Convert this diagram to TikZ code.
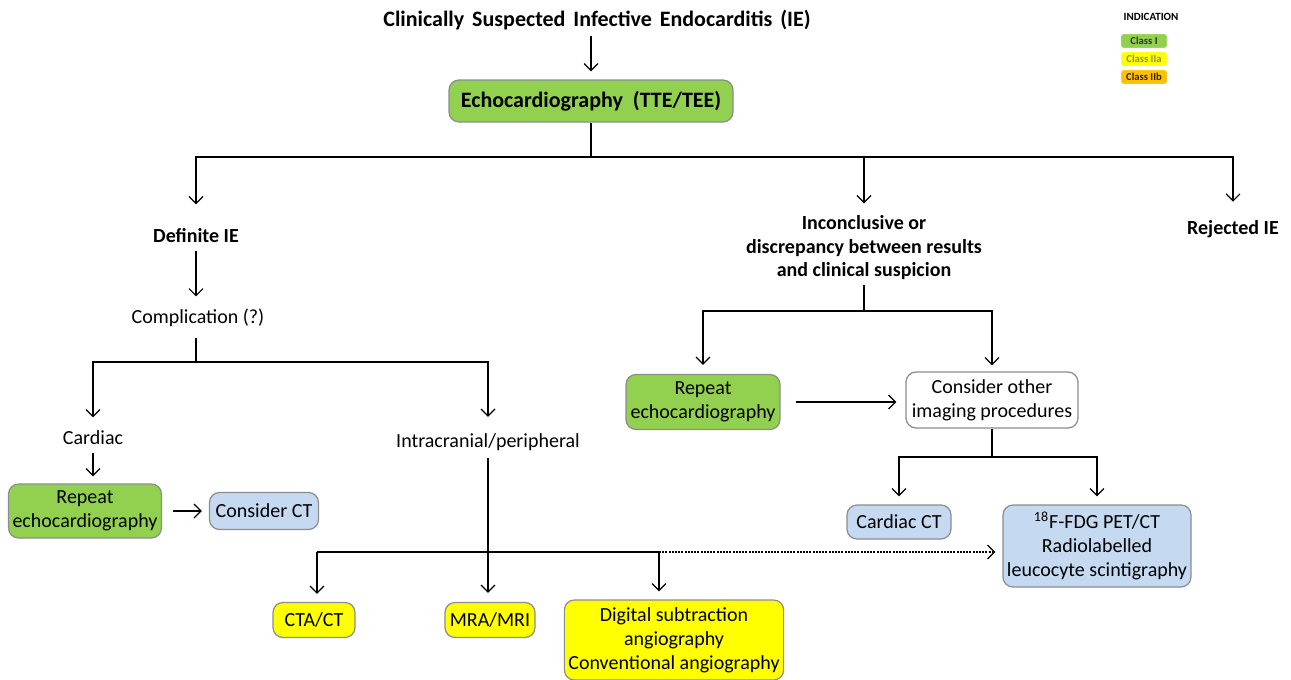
\documentclass[tikz,border=0pt]{standalone}
\usepackage{fontspec}
\setmainfont{Carlito}
\usepackage{tikz}
\usetikzlibrary{
    arrows.meta,
    positioning
}
\definecolor{classI}{HTML}{92D050}
\definecolor{classIIa}{HTML}{FFFF00}
\definecolor{classIIb}{HTML}{FFC000}
\definecolor{imgblue}{HTML}{C5D9F1}
\definecolor{boxline}{HTML}{8C8C8C}

\begin{document}
\begin{tikzpicture}[
        x=0.5pt, y=-0.5pt,
        line width=0.6pt,
        font=\fontsize{10}{12}\selectfont,
        box/.style={
            draw=boxline,
            rounded corners=5pt,
            align=center,
            inner sep=2pt
        },
        txt/.style={
            align=center,
            inner sep=0pt
        },
        head/.style={
            txt,
            font=\fontsize{10}{11.75}\selectfont\bfseries
        },
        legbox/.style={
            draw=white,
            rounded corners=1.5pt,
            minimum width=23.5pt,
            minimum height=7.5pt,
            inner sep=0pt,
            font=\fontsize{5.3}{6}\selectfont\bfseries
        },
        arr/.style={
            -{Straight Barb[length=3.5pt,width=7pt]}
        }
    ]
    \useasboundingbox (0,0) rectangle (1291,680);

    % top
    \node[txt, font=\fontsize{11}{13}\selectfont\bfseries] (title) at (597,20)
        {Clinically\hspace{0.36em}Suspected\hspace{0.36em}Infective\hspace{0.36em}Endocarditis\hspace{0.36em}(IE)};
    \node[box, fill=classI, minimum width=142pt, minimum height=21pt,
          font=\fontsize{11}{13}\selectfont\bfseries] (echo) at (591,101)
        {Echocardiography\ \ (TTE/TEE)};

    % legend
    \node[txt, font=\fontsize{5.5}{6}\selectfont\bfseries] (ind) at (1151,17) {INDICATION};
    \node[legbox, fill=classI, text=black!80] (lgI) at (1144,41) {Class I};
    \node[legbox, fill=classIIa, text=black!50!yellow!70!gray] (lgIIa) at (1144,59) {Class IIa};
    \node[legbox, fill=classIIb, text=black!75!brown] (lgIIb) at (1144,77) {Class IIb};

    % second level
    \node[head] (def) at (196,236) {Definite IE};
    \node[head] (inc) at (864,248)
        {Inconclusive or\\discrepancy between results\\and clinical suspicion};
    \node[head] (rej) at (1233,229) {Rejected IE};

    % left branch
    \node[txt] (comp) at (198,318) {Complication (?)};
    \node[txt] (card) at (93,438) {Cardiac};
    \node[txt] (intra) at (488,442) {Intracranial/peripheral};
    \node[box, fill=classI, minimum width=76pt, minimum height=27pt] (rep1) at (85,511)
        {Repeat\\echocardiography};
    \node[box, fill=imgblue, minimum width=54.5pt, minimum height=18.5pt] (ct1) at (264,511)
        {Consider CT};
    \node[box, fill=classIIa, minimum width=41pt, minimum height=17.5pt] (cta) at (314,620)
        {CTA/CT};
    \node[box, fill=classIIa, minimum width=45pt, minimum height=17.5pt] (mra) at (490,620)
        {MRA/MRI};
    \node[box, fill=classIIa, minimum width=109.5pt, minimum height=40pt] (dsa) at (674,640)
        {Digital subtraction\\angiography\\Conventional angiography};

    % right branch
    \node[box, fill=classI, minimum width=77pt, minimum height=27.5pt] (rep2) at (703,402)
        {Repeat\\echocardiography};
    \node[box, fill=white, minimum width=86pt, minimum height=28pt] (other) at (992,400)
        {Consider other\\imaging procedures};
    \node[box, fill=imgblue, minimum width=52pt, minimum height=17pt] (cct) at (899,522)
        {Cardiac CT};
    \node[box, fill=imgblue, minimum width=93.5pt, minimum height=41pt] (pet) at (1097,546)
        {\textsuperscript{18}F-FDG PET/CT\\Radiolabelled\\leucocyte scintigraphy};

    % junctions
    \coordinate (b1) at (591,157);
    \coordinate (b2) at (196,362);
    \coordinate (b3l) at (317,552);
    \coordinate (b3r) at (659,552);
    \coordinate (b4) at (864,311);
    \coordinate (b5) at (992,457);

    % connectors
    \draw[arr, shorten <=3pt, shorten >=4pt] (echo.north |- title.south) -- (echo.north);
    \draw (echo) -- (b1);
    \draw[arr, shorten >=12pt] (b1) -| (def);
    \draw[arr, shorten >=6pt] (b1) -| (inc);
    \draw[arr, shorten >=9pt] (b1) -| (rej);

    \draw[arr, shorten <=3.5pt, shorten >=6pt] (def) -- (def |- comp.north);
    \draw[shorten <=5pt] (def |- comp.south) -- (b2);
    \draw[arr, shorten >=6.5pt] (b2) -| (card);
    \draw[arr, shorten >=8pt] (b2) -| (intra);
    \draw[arr, shorten <=3.5pt, shorten >=3.5pt] (card.south) -- (card.south |- rep1.north);
    \draw[arr, shorten <=5.5pt, shorten >=3.5pt] (rep1) -- (ct1);

    \draw[arr, shorten <=3.5pt, shorten >=4.5pt] (intra) -- (intra |- mra.north);
    \draw (b3l) -- (b3r);
    \draw[arr, shorten >=4pt] (b3l) -- (b3l |- cta.north);
    \draw[arr, shorten >=4pt] (b3r) -- (b3r |- dsa.north);
    \draw[arr, dash pattern=on 1pt off 0.6pt, shorten >=3.5pt] (b3r) -- (b3r -| pet.west);

    \draw[shorten <=2pt] (inc) -- (b4);
    \draw[arr, shorten >=4.5pt] (b4) -| (rep2);
    \draw[arr, shorten >=3pt] (b4) -| (other);
    \draw[arr, shorten <=7.5pt, shorten >=4.5pt] (rep2) -- (rep2 -| other.west);
    \draw (other) -- (b5);
    \draw[arr, shorten >=4pt] (b5) -| (cct);
    \draw[arr, shorten >=4pt] (b5) -| (pet);

\end{tikzpicture}
\end{document}
